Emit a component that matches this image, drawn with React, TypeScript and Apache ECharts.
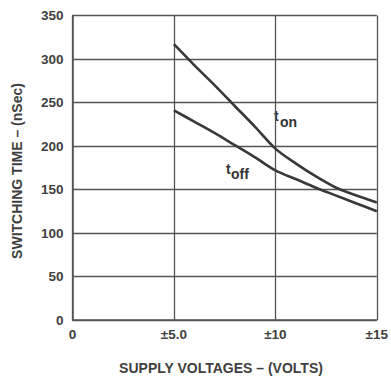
import React, { useEffect, useRef } from "react";
import * as echarts from "echarts";

const xTicks = [0, 5, 10, 15];
const xTickLabels = ["0", "±5.0", "±10", "±15"];
const yMin = 0;
const yMax = 350;
const yStep = 50;

const supplyVolts = [5, 6, 7, 8, 9, 10, 11, 12, 13, 14, 15];
const tOnNs = [317, 293, 270, 246, 222, 197, 180, 165, 152, 143, 135];
const tOffNs = [241, 228, 215, 201, 187, 172, 162, 152, 143, 134, 125];

const xAxisTitle = "SUPPLY VOLTAGES – (VOLTS)";
const yAxisTitle = "SWITCHING TIME – (nSec)";

export default function App() {
  const ref = useRef<HTMLDivElement>(null);

  useEffect(() => {
    if (!ref.current) return;
    const chart = echarts.init(ref.current, undefined, { renderer: "svg" });
    const font = "'Liberation Sans', Arial, sans-serif";
    const textColor = "#404040";
    const gridColor = "#555555";
    const lineColor = "#383838";

    chart.setOption({
      animation: false,
      backgroundColor: "#ffffff",
      grid: { left: 72.5, right: 9, top: 15.5, bottom: 57, containLabel: false },
      xAxis: {
        type: "value",
        min: xTicks[0],
        max: xTicks[xTicks.length - 1],
        interval: 5,
        axisLine: { show: true, lineStyle: { color: gridColor, width: 1.6 } },
        axisTick: { show: false },
        splitLine: { show: true, lineStyle: { color: gridColor, width: 1.3 } },
        axisLabel: {
          margin: 7,
          color: textColor,
          fontFamily: font,
          fontWeight: "bold",
          fontSize: 13.5,
          formatter: (v: number) => {
            const i = xTicks.indexOf(v);
            return i >= 0 ? xTickLabels[i] : "";
          },
        },
      },
      yAxis: {
        type: "value",
        min: yMin,
        max: yMax,
        interval: yStep,
        axisLine: { show: true, lineStyle: { color: gridColor, width: 1.6 } },
        axisTick: { show: false },
        splitLine: { show: true, lineStyle: { color: gridColor, width: 1.3 } },
        axisLabel: {
          margin: 9,
          color: textColor,
          fontFamily: font,
          fontWeight: "bold",
          fontSize: 13.5,
        },
      },
      series: [
        {
          name: "ton",
          type: "line",
          data: supplyVolts.map((v, i) => [v, tOnNs[i]]),
          showSymbol: false,
          smooth: 0.3,
          lineStyle: { color: lineColor, width: 2.6 },
        },
        {
          name: "toff",
          type: "line",
          data: supplyVolts.map((v, i) => [v, tOffNs[i]]),
          showSymbol: false,
          smooth: 0.3,
          lineStyle: { color: lineColor, width: 2.6 },
        },
      ],
      graphic: [
        {
          type: "text",
          x: 221,
          y: 368,
          style: {
            text: xAxisTitle,
            fill: textColor,
            font: `bold 14px ${font}`,
            align: "center",
            verticalAlign: "middle",
          },
        },
        {
          type: "text",
          x: 17,
          y: 171,
          rotation: Math.PI / 2,
          style: {
            text: yAxisTitle,
            fill: textColor,
            font: `bold 14px ${font}`,
            align: "center",
            verticalAlign: "middle",
          },
        },
        {
          type: "text",
          x: 274,
          y: 116,
          style: { text: "t", fill: "#333", font: `bold 14px ${font}`, verticalAlign: "middle" },
        },
        {
          type: "text",
          x: 280,
          y: 122,
          style: { text: "on", fill: "#333", font: `bold 14px ${font}`, verticalAlign: "middle" },
        },
        {
          type: "text",
          x: 226,
          y: 169,
          style: { text: "t", fill: "#333", font: `bold 14px ${font}`, verticalAlign: "middle" },
        },
        {
          type: "text",
          x: 231,
          y: 174,
          style: { text: "off", fill: "#333", font: `bold 14px ${font}`, verticalAlign: "middle" },
        },
      ],
    });

    return () => chart.dispose();
  }, []);

  return (
    <div
      ref={ref}
      style={{ position: "fixed", left: 0, top: 0, width: 391, height: 377 }}
    />
  );
}
